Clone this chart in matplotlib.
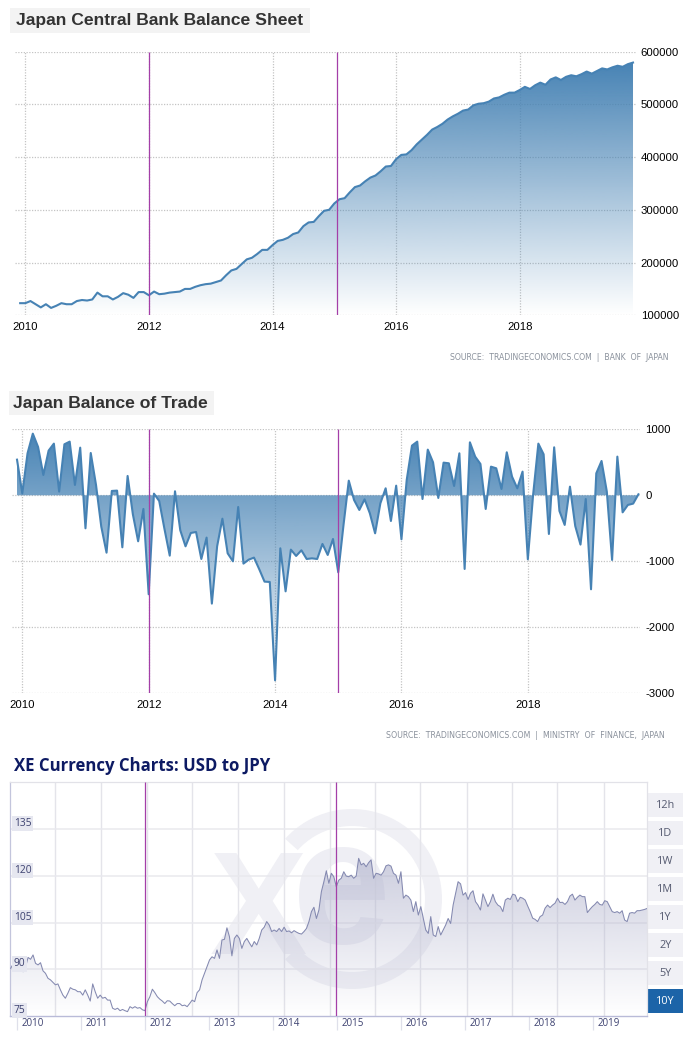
import matplotlib
matplotlib.use("Agg")
import matplotlib.pyplot as plt
import numpy as np
from matplotlib.colors import to_rgb
from matplotlib.patches import Rectangle, Wedge

W, H = 685, 1052

# -------------------------
# Balance sheet, monthly from Dec 2009 (thousands)
# -------------------------
bs_start = 2009 + 11 / 12
bs_values = [
    123, 123, 127, 121, 115, 121, 114, 118, 123, 121, 121, 127, 129, 128, 130, 143,
    136, 136, 130, 135, 142, 139, 133, 144, 144, 138, 145, 140, 141, 143, 144, 145,
    150, 150, 154, 157, 159, 160, 163, 166, 176, 185, 188, 197, 206, 209, 216, 224,
    224, 233, 241, 243, 247, 254, 257, 269, 276, 277, 288, 298, 300, 312, 320, 322,
    333, 343, 346, 354, 361, 365, 373, 382, 383, 396, 404, 405, 413, 424, 433, 442,
    452, 457, 463, 471, 477, 482, 488, 490, 498, 501, 502, 505, 511, 513, 518, 522,
    522, 527, 533, 529, 536, 541, 537, 547, 551, 546, 552, 555, 553, 557, 562, 558,
    563, 568, 566, 570, 573, 571, 576, 579,
]
bs_xticks = [2010, 2012, 2014, 2016, 2018]
bs_yticks = [100000, 200000, 300000, 400000, 500000, 600000]
bs_marks = [2012.0, 2015.05]

# -------------------------
# Balance of trade, monthly from Dec 2009
# -------------------------
trade_start = 2009 + 11 / 12
trade_values = [
    540, 30, 636, 934, 732, 308, 677, 783, 56, 773, 813, 157, 722, -500, 641, 157,
    -475, -869, 66, 71, -788, 293, -288, -697, -207, -1500, 25, -86, -510, -914, 61, -530,
    -773, -571, -556, -965, -641, -1641, -773, -354, -879, -1000, -177, -1035, -975, -944, -1121, -1308,
    -1313, -2803, -803, -1455, -823, -919, -833, -965, -955, -965, -737, -904, -662, -1167, -450, 222,
    -71, -222, -61, -273, -576, -121, 106, -389, 146, -667, 232, 753, 813, -56, 692, 500,
    -40, 495, 485, 141, 636, -1116, 803, 586, 475, -207, 434, 409, 96, 652, 283, 106,
    359, -970, 5, 783, 621, -586, 727, -237, -449, 131, -465, -747, -56, -1424, 333, 520,
    56, -980, 586, -258, -146, -126, 15,
]
trade_xticks = [2010, 2012, 2014, 2016, 2018]
trade_yticks = [-3000, -2000, -1000, 0, 1000]
trade_marks = [2012.0, 2015.0]

# -------------------------
# USD to JPY
# -------------------------
xe_values = [
    90.3, 91.7, 91.0, 90.0, 90.1, 89.2, 90.8, 93.8, 93.2, 94.6, 91.9, 91.4, 92.1, 89.5, 88.7, 87.1,
    86.6, 85.8, 85.0, 85.3, 83.4, 81.7, 80.7, 82.3, 84.1, 83.6, 83.4, 82.8, 82.8, 81.7, 83.4, 81.7,
    79.8, 85.3, 82.8, 80.7, 81.7, 80.7, 81.0, 80.1, 80.1, 77.5, 77.1, 77.5, 76.7, 77.1, 76.7, 76.4,
    78.0, 77.5, 78.0, 77.5, 77.7, 77.0, 76.7, 79.6, 81.2, 83.6, 82.5, 81.2, 80.4, 79.8, 79.0, 79.9,
    79.8, 79.0, 78.3, 79.0, 79.0, 78.3, 78.5, 78.0, 79.0, 80.1, 79.6, 82.5, 83.4, 86.6, 88.7, 90.8,
    93.0, 94.0, 93.5, 96.2, 93.5, 99.4, 99.6, 103.3, 100.5, 94.3, 99.9, 101.0, 99.9, 96.7, 98.9, 99.9,
    98.5, 97.2, 98.9, 97.8, 99.9, 102.6, 103.5, 105.3, 104.2, 102.1, 102.6, 102.1, 103.1, 102.1, 103.5, 102.1,
    102.3, 101.7, 102.4, 101.9, 101.5, 101.3, 102.1, 103.1, 105.3, 108.5, 109.9, 106.3, 109.0, 114.9, 118.1, 121.6,
    117.6, 120.8, 119.7, 116.5, 118.6, 119.2, 121.3, 119.9, 119.7, 120.2, 119.2, 119.9, 125.6, 123.5, 124.0, 122.9,
    124.2, 125.1, 119.2, 120.8, 120.6, 120.2, 121.3, 123.2, 123.5, 123.1, 120.8, 120.2, 117.6, 121.3, 112.8, 113.8,
    113.3, 112.2, 108.5, 111.7, 107.4, 110.1, 106.3, 102.6, 101.5, 106.9, 101.0, 100.5, 103.7, 101.0, 102.6, 104.2,
    106.3, 104.7, 110.6, 114.4, 118.1, 117.4, 113.8, 114.6, 112.4, 114.4, 115.2, 111.7, 110.6, 109.0, 114.2, 112.2,
    110.1, 111.7, 114.1, 111.7, 110.6, 110.1, 108.5, 112.2, 112.8, 112.4, 114.1, 113.8, 111.7, 113.1, 112.8, 112.2,
    110.3, 108.5, 106.4, 106.0, 105.3, 106.9, 107.4, 109.6, 110.6, 109.8, 110.6, 111.2, 112.8, 111.4, 111.5, 110.8,
    111.7, 113.5, 114.1, 112.2, 113.1, 113.8, 113.3, 113.3, 108.2, 109.2, 110.1, 110.8, 111.7, 110.8, 110.6, 112.0,
    111.7, 110.1, 108.5, 108.2, 108.5, 108.0, 108.8, 105.8, 105.3, 108.0, 108.2, 108.0, 108.8, 108.8, 109.0, 109.2,
    109.5,
]
xe_xticks = [2010, 2011, 2012, 2013, 2014, 2015, 2016, 2017, 2018, 2019]
xe_yticks = [75, 90, 105, 120, 135]
xe_grid_years = [2010.59, 2011.31, 2012.02, 2012.73, 2013.45, 2014.16, 2014.88,
                 2015.59, 2016.30, 2017.02, 2017.73, 2018.44, 2019.16]
xe_marks = [2012.0, 2014.98]
xe_buttons = ["12h", "1D", "1W", "1M", "1Y", "2Y", "5Y", "10Y"]

BLUE = "#4682B4"
PURPLE = "#a43fa8"
GRID = "#c4c4c4"
SANS = "Liberation Sans"


def add_axes_px(left, top, right, bottom):
    ax = fig.add_axes([left / W, 1 - bottom / H, (right - left) / W, (bottom - top) / H])
    ax.patch.set_visible(False)
    for spine in ax.spines.values():
        spine.set_visible(False)
    return ax


def gradient_fill(ax, x, y, base, y_low, y_high, color, alpha_top, alpha_bottom):
    # vertical alpha ramp, clipped to the area under the line
    poly = ax.fill_between(x, y, base, facecolor="none", edgecolor="none")
    ramp = np.zeros((256, 1, 4))
    ramp[:, 0, :3] = to_rgb(color)
    ramp[:, 0, 3] = np.linspace(alpha_top, alpha_bottom, 256)
    x0, x1 = ax.get_xlim()
    im = ax.imshow(ramp, extent=[x0, x1, y_low, y_high], origin="upper", aspect="auto", zorder=2)
    ax.set_xlim(x0, x1)
    ax.set_ylim(y_low, y_high)
    im.set_clip_path(poly.get_paths()[0], transform=ax.transData)


def trading_style(ax, xticks, yticks, ylabels, pad_x, pad_y):
    ax.set_xticks(xticks)
    ax.set_yticks(yticks)
    ax.set_yticklabels(ylabels)
    ax.yaxis.tick_right()
    ax.grid(True, linestyle=(0, (1, 1.2)), color=GRID, linewidth=0.9, zorder=1)
    ax.set_axisbelow(True)
    ax.tick_params(axis="x", length=0, pad=pad_x, labelsize=8.2, labelfontfamily=SANS)
    ax.tick_params(axis="y", length=0, pad=pad_y, labelsize=8.2, labelfontfamily=SANS)


fig = plt.figure(figsize=(W / 100, H / 100), dpi=100, facecolor="white")

# page layer in pixel coordinates: title boxes, watermark, buttons
page = fig.add_axes([0, 0, 1, 1])
page.set_xlim(0, W)
page.set_ylim(H, 0)
page.axis("off")

page.add_patch(Rectangle((10, 8), 300, 25, facecolor="#f3f3f3", edgecolor="none"))
page.text(16, 20.5, "Japan Central Bank Balance Sheet", fontsize=12.6, fontweight="bold",
          family=SANS, color="#333333", va="center")
page.add_patch(Rectangle((9, 391), 205, 24, facecolor="#f3f3f3", edgecolor="none"))
page.text(13, 403.5, "Japan Balance of Trade", fontsize=12.6, fontweight="bold",
          family=SANS, color="#333333", va="center")
page.text(14, 766, "XE Currency Charts: USD to JPY", fontsize=12.1, fontweight="bold",
          family="Open Sans", color="#0d1a63", va="center")

page.text(669, 357, "SOURCE:  TRADINGECONOMICS.COM  |  BANK  OF  JAPAN", fontsize=5.6,
          family="DejaVu Sans", color="#8a919c", ha="right", va="center")
page.text(665, 735, "SOURCE:  TRADINGECONOMICS.COM  |  MINISTRY  OF  FINANCE,  JAPAN", fontsize=5.7,
          family="DejaVu Sans", color="#8a919c", ha="right", va="center")

# XE watermark
page.add_patch(Wedge((352, 899), 90, -138, 138, width=17, facecolor="#f0f0f5", edgecolor="none"))
page.text(258, 916, "X", fontsize=105, fontweight="bold", family=SANS, color="#f0f0f5",
          ha="center", va="center")
page.text(342, 897, "e", fontsize=128, fontweight="bold", family=SANS, color="#eeeef4",
          ha="center", va="center")

# XE range buttons
for i, label in enumerate(xe_buttons):
    top = 793.3 + 28 * i
    selected = label == "10Y"
    page.add_patch(Rectangle((648, top), 35, 24, facecolor="#1c64a8" if selected else "#f0f0f5",
                             edgecolor="none"))
    page.text(665.5, top + 12, label, fontsize=7.8, family="Open Sans",
              color="white" if selected else "#555a70", ha="center", va="center")

# -------------------------
# Balance sheet
# -------------------------
ax1 = add_axes_px(15, 51.5, 637, 315.3)
ax1.set_xlim(2009.833, 2019.898)
ax1.set_ylim(100000, 600000)
bs_x = bs_start + np.arange(len(bs_values)) / 12
bs_y = np.array(bs_values) * 1000
gradient_fill(ax1, bs_x, bs_y, 100000, 100000, 580000, BLUE, 1.0, 0.0)
ax1.plot(bs_x, bs_y, color=BLUE, linewidth=1.5, zorder=3)
trading_style(ax1, bs_xticks, bs_yticks, [str(v) for v in bs_yticks], 5, 2.7)
ax1.vlines(bs_marks, 100000, 600000, color=PURPLE, linewidth=0.9, zorder=4)

# -------------------------
# Balance of trade
# -------------------------
ax2 = add_axes_px(12.3, 429.3, 640, 693.3)
ax2.set_xlim(2009.842, 2019.775)
ax2.set_ylim(-3000, 1000)
trade_x = trade_start + np.arange(len(trade_values)) / 12
gradient_fill(ax2, trade_x, trade_values, 0, -3000, 1000, BLUE, 1.0, 0.0)
ax2.plot(trade_x, trade_values, color=BLUE, linewidth=1.5, zorder=3)
trading_style(ax2, trade_xticks, trade_yticks, [str(v) for v in trade_yticks], 4.5, 4)
ax2.vlines(trade_marks, -3000, 1000, color=PURPLE, linewidth=0.9, zorder=4)

# -------------------------
# USD to JPY
# -------------------------
ax3 = add_axes_px(10.3, 782.3, 647, 1016)
ax3.set_xlim(2009.891, 2019.839)
ax3.set_ylim(75, 150)
xe_x = np.linspace(2009.897, 2019.839, len(xe_values))
for yr in xe_grid_years:
    ax3.axvline(yr, color="#e4e4ea", linewidth=1.0, zorder=1)
for v in xe_yticks[1:]:
    ax3.axhline(v, color="#e9e9ee", linewidth=1.1, zorder=1)
gradient_fill(ax3, xe_x, xe_values, 75, 75, 150, "#b4b6cf", 1.0, 0.0)
ax3.plot(xe_x, xe_values, color="#8489b0", linewidth=0.75, zorder=3)
ax3.vlines(xe_marks, 75, 150, color=PURPLE, linewidth=0.9, zorder=4)

ax3.spines["left"].set(visible=True, color="#c3c5dc", linewidth=0.9)
ax3.spines["bottom"].set(visible=True, color="#b9bbd8", linewidth=1.0)
ax3.spines["top"].set(visible=True, color="#e2e2e8", linewidth=0.9)
ax3.spines["right"].set(visible=True, color="#e2e2e8", linewidth=0.9)

ax3.set_yticks([])
ax3.set_xticks(xe_xticks)
ax3.set_xticklabels([])
ax3.tick_params(axis="x", length=10, width=0.9, color="#dfe0ea")
for yr in xe_xticks:
    ax3.annotate(str(yr), (yr, 75), xytext=(3.4, -5.2), textcoords="offset points", fontsize=7,
                 family="Open Sans", color="#3c4170", va="center", annotation_clip=False)
for v in xe_yticks:
    ax3.annotate(str(v), (2009.891, v), xytext=(2.4, 3.8), textcoords="offset points", fontsize=7.4,
                 family="Open Sans", color="#3c4170", va="center", zorder=6,
                 bbox=dict(boxstyle="square,pad=0.2", facecolor="#e6e7f0", edgecolor="none"))

fig.savefig("out.png", dpi=100)
